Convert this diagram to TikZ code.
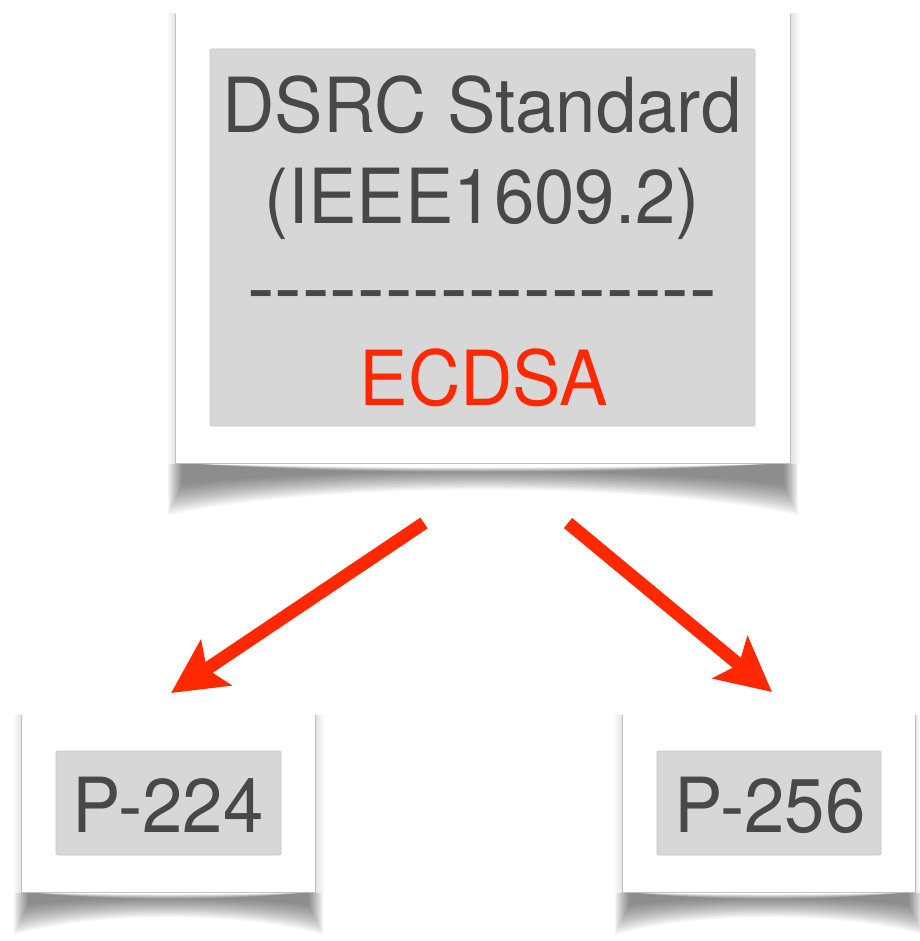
\documentclass[tikz,border=0pt]{standalone}
\usepackage{fontspec}
\setmainfont{TeX Gyre Heros}
\newfontfamily\hfont[FakeStretch=0.955]{TeX Gyre Heros}
\newfontfamily\dfont{TeX Gyre Heros}
\usetikzlibrary{arrows.meta}
\definecolor{txtgray}{RGB}{72,72,72}
\definecolor{boxgray}{RGB}{215,215,215}
\definecolor{boxedge}{RGB}{198,198,198}
\definecolor{cardedge}{RGB}{192,192,192}
\definecolor{arrred}{RGB}{255,40,0}
\newcommand{\hy}{\hbox{-}}
% curl shadow: #1 left, #2 right, #3 bottom, #4 corner depth, #5 mid control, #6 top dip control
\newcommand{\curlshadow}[6]{%
  \foreach \k in {0,...,13}{%
    \fill[black,opacity=0.04]
      ({#1+1.1*\k},{#3}) -- ({#1+1.1*\k},{#3+#4-2.3*\k})
      .. controls ({#1+0.25*(#2-#1)},{#3+#5-1.1*\k}) and ({#2-0.25*(#2-#1)},{#3+#5-1.1*\k}) .. ({#2-1.1*\k},{#3+#4-2.3*\k})
      -- ({#2-1.1*\k},{#3})
      .. controls ({#2-0.3*(#2-#1)},{#3+#6+0.5*\k}) and ({#1+0.3*(#2-#1)},{#3+#6+0.5*\k}) .. ({#1+1.1*\k},{#3}) -- cycle;
  }%
}
\tikzset{
  card/.style={rectangle, fill=white, draw=none, inner sep=0pt},
  cardline/.style={draw=cardedge, line width=1.2pt},
  inner/.style={rectangle, fill=boxgray, draw=boxedge, line width=0.8pt, rounded corners=2pt, inner sep=0pt},
  txt/.style={inner sep=0pt, text=txtgray, font=\hfont\fontsize{76}{76}\selectfont},
  dashtxt/.style={inner sep=0pt, text=txtgray, font=\dfont\fontsize{83}{83}\selectfont},
  arr/.style={draw=arrred, line width=13pt, -{Stealth[length=54pt,width=54pt,inset=11pt]}},
}
\begin{document}
\begin{tikzpicture}[x=1pt,y=-1pt]
\useasboundingbox (0,0) rectangle (919,941);
\fill[white] (0,0) rectangle (919,941);

% shadows
\curlshadow{168}{798}{463}{52}{18}{6}
\curlshadow{14}{323}{892}{43}{19}{3}
\curlshadow{615}{923}{892}{43}{19}{3}
\shade[left color=white, right color=black!12] (166,14) rectangle (176,463);
\shade[left color=black!12, right color=white] (790,14) rectangle (800,463);
\shade[left color=white, right color=black!12] (12,715) rectangle (22,892);
\shade[left color=black!12, right color=white] (315,715) rectangle (325,892);
\shade[left color=white, right color=black!12] (613,715) rectangle (623,892);
\shade[left color=black!12, right color=white] (915,715) rectangle (919,892);

% top card
\node[card, minimum width=614pt, minimum height=449pt] (topcard) at (483,238.5) {};
\draw[cardline] (topcard.north west) -- (topcard.south west) -- (topcard.south east) -- (topcard.north east);
\node[inner, minimum width=545pt, minimum height=377pt] (topinner) at (482.5,237.5) {};
\node[txt, anchor=base] (l1) at (482,133) {DSRC Standard};
\node[txt, anchor=base] (l2) at (482,223) {(IEEE1609.2)};
\node[dashtxt, anchor=base] (l3) at (482,316) {\hy\hy\hy\hy\hy\hy\hy\hy\hy\hy\hy\hy\hy\hy\hy\hy\hy};
\node[txt, text=arrred, anchor=base] (l4) at (484,405) {ECDSA};

% bottom left card
\node[card, minimum width=293pt, minimum height=177pt] (lcard) at (168.5,803.5) {};
\draw[cardline] (lcard.north west) -- (lcard.south west) -- (lcard.south east) -- (lcard.north east);
\node[inner, minimum width=225pt, minimum height=104pt] (linner) at (168.5,803) {};
\node[txt, anchor=base] (ltext) at (168,832) {P-224};

% bottom right card
\node[card, minimum width=293pt, minimum height=177pt] (rcard) at (769,803.5) {};
\draw[cardline] (rcard.north west) -- (rcard.south west) -- (rcard.south east) -- (rcard.north east);
\node[inner, minimum width=224pt, minimum height=104pt] (rinner) at (769,803) {};
\node[txt, anchor=base] (rtext) at (770,832) {P-256};

% arrows
\coordinate (a1s) at (424,523);
\coordinate (a1e) at (171,693);
\coordinate (a2s) at (568,523);
\coordinate (a2e) at (772,692);
\draw[arr] (a1s) -- (a1e);
\draw[arr] (a2s) -- (a2e);
\end{tikzpicture}
\end{document}
